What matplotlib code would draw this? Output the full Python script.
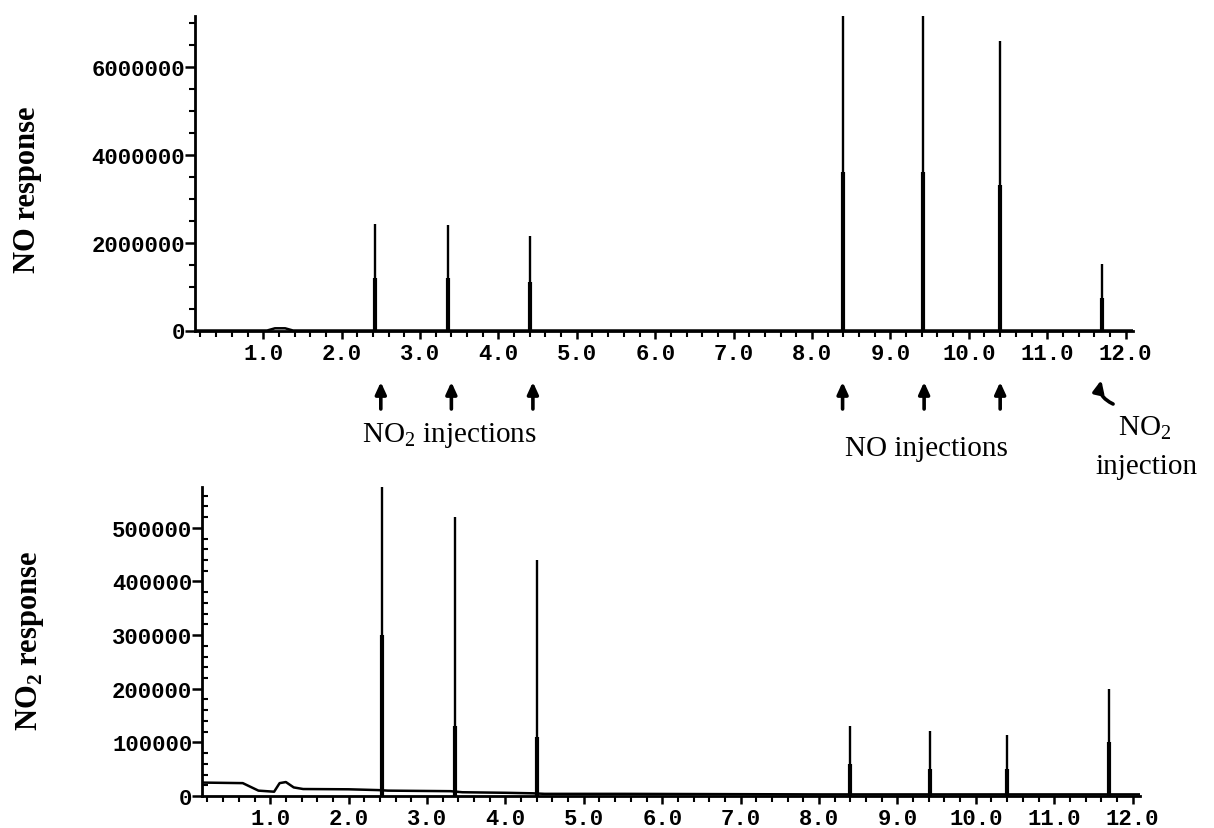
import matplotlib
matplotlib.use("Agg")
import matplotlib.pyplot as plt
from matplotlib.ticker import MultipleLocator, FixedLocator, FormatStrFormatter
import matplotlib.transforms as mtrans

plt.rcParams['mathtext.fontset'] = 'custom'
plt.rcParams['mathtext.rm'] = 'Liberation Serif'
plt.rcParams['mathtext.bf'] = 'Liberation Serif:bold'

# ---------------- data ----------------
peak_times = [2.43, 3.36, 4.40, 8.40, 9.41, 10.40, 11.70]

no_heights = [2.42e6, 2.40e6, 2.15e6, 7.4e6, 7.4e6, 6.59e6, 1.51e6]
no_shoulders = [1.2e6, 1.2e6, 1.1e6, 3.6e6, 3.6e6, 3.3e6, 0.75e6]
no_base_t = [0.13, 1.05, 1.15, 1.28, 1.38, 12.1]
no_base_v = [0.0, 0.0, 0.05e6, 0.05e6, 0.0, 0.0]

no2_heights = [6.0e5, 5.2e5, 4.4e5, 1.31e5, 1.22e5, 1.14e5, 2.0e5]
no2_shoulders = [3.0e5, 1.3e5, 1.1e5, 0.6e5, 0.5e5, 0.5e5, 1.0e5]
no2_base_t = [0.14, 0.65, 0.85, 1.05, 1.12, 1.2, 1.3, 1.42, 2.0, 2.38,
              2.5, 3.3, 3.45, 4.0, 4.35, 4.5, 5.5, 8.0, 12.1]
no2_base_v = [2.5e4, 2.4e4, 1.0e4, 0.8e4, 2.4e4, 2.6e4, 1.6e4, 1.3e4, 1.25e4, 1.1e4,
              1.0e4, 0.9e4, 0.7e4, 0.6e4, 0.5e4, 0.4e4, 0.4e4, 0.3e4, 0.3e4]

no2_inj_times = [2.50, 3.40, 4.44]
no_inj_times = [8.39, 9.43, 10.40]
late_no2_inj_time = 11.69

x_major = [1.0, 2.0, 3.0, 4.0, 5.0, 6.0, 7.0, 8.0, 9.0, 10.0, 11.0, 12.0]
top_yticks = [0, 2000000, 4000000, 6000000]
bot_yticks = [0, 100000, 200000, 300000, 400000, 500000]

# ---------------- figure ----------------
W, H = 1214, 829
fig = plt.figure(figsize=(W / 100, H / 100), dpi=100)

XLIM = (0.13, 12.1)
AXW = (XLIM[1] - XLIM[0]) * 78.4
ax1 = fig.add_axes([195 / W, 1 - 331.5 / H, AXW / W, 314.5 / H])
ax2 = fig.add_axes([202 / W, 1 - 797 / H, AXW / W, 309 / H])

tickfont = dict(family='Liberation Mono', weight='bold', size=16)

def style(ax, ylim, ymajor, yminor, yminor_dir):
    ax.set_xlim(*XLIM)
    ax.set_ylim(*ylim)
    for s in ['top', 'right']:
        ax.spines[s].set_visible(False)
    for s in ['left', 'bottom']:
        ax.spines[s].set_linewidth(2.0)
    ax.xaxis.set_major_locator(FixedLocator(x_major))
    ax.xaxis.set_major_formatter(FormatStrFormatter('%.1f'))
    ax.xaxis.set_minor_locator(MultipleLocator(0.2))
    ax.yaxis.set_major_locator(FixedLocator(ymajor))
    ax.yaxis.set_major_formatter(FormatStrFormatter('%d'))
    ax.yaxis.set_minor_locator(MultipleLocator(yminor))
    ax.tick_params(axis='x', which='major', direction='out', length=6, width=1.8, pad=3)
    ax.tick_params(axis='x', which='minor', direction='out', length=4, width=1.5)
    ax.tick_params(axis='y', which='major', direction='out', length=7, width=1.8, pad=0)
    ax.tick_params(axis='y', which='minor', direction=yminor_dir, length=4, width=1.5)
    for lab in ax.get_xticklabels() + ax.get_yticklabels():
        lab.set_fontfamily(tickfont['family'])
        lab.set_fontweight(tickfont['weight'])
        lab.set_fontsize(tickfont['size'])

style(ax1, (0, 7.15e6), top_yticks, 500000, 'out')
style(ax2, (0, 5.76e5), bot_yticks, 20000, 'in')

# traces
ax1.plot(no_base_t, no_base_v, color='black', lw=1.8, solid_capstyle='butt')
ax1.vlines(peak_times, 0, no_heights, color='black', lw=1.7)
ax1.vlines(peak_times, 0, no_shoulders, color='black', lw=3.0)

ax2.plot(no2_base_t, no2_base_v, color='black', lw=1.8)
ax2.vlines(peak_times, 0, no2_heights, color='black', lw=1.7)
ax2.vlines(peak_times, 0, no2_shoulders, color='black', lw=3.0)

# axis titles
fig.text(28 / W, 1 - 190 / H, 'NO response', rotation=90, ha='center', va='center',
         fontsize=22, fontweight='bold', family='Liberation Serif')
fig.text(30 / W, 1 - 641 / H, r'NO$_\mathbf{2}$ response', rotation=90, ha='center',
         va='center', fontsize=22, fontweight='bold', family='Liberation Serif')

# injection arrows
trans = mtrans.blended_transform_factory(ax1.transData, fig.transFigure)
arrow_kw = dict(arrowstyle='-|>,head_length=0.7,head_width=0.32', lw=2.6,
                color='black', shrinkA=0, shrinkB=0)
for t in no2_inj_times + no_inj_times:
    ax1.annotate('', xy=(t, 1 - 383 / H), xycoords=trans,
                 xytext=(t, 1 - 410 / H), textcoords=trans,
                 arrowprops=arrow_kw, annotation_clip=False)
ax1.annotate('', xy=(late_no2_inj_time, 1 - 381 / H), xycoords=trans,
             xytext=(late_no2_inj_time + 0.15, 1 - 405 / H), textcoords=trans,
             arrowprops=dict(arrow_kw, connectionstyle='arc3,rad=-0.4'),
             annotation_clip=False)

tkw = dict(ha='center', va='center', fontsize=21, family='Liberation Serif')
fig.text(449 / W, 1 - 436 / H, r'NO$_\mathrm{2}$ injections', **tkw)
fig.text(926 / W, 1 - 449 / H, 'NO injections', **tkw)
fig.text(1145 / W, 1 - 428 / H, r'NO$_\mathrm{2}$', **tkw)
fig.text(1146 / W, 1 - 467 / H, 'injection', **tkw)

fig.savefig('out.png', dpi=100)
